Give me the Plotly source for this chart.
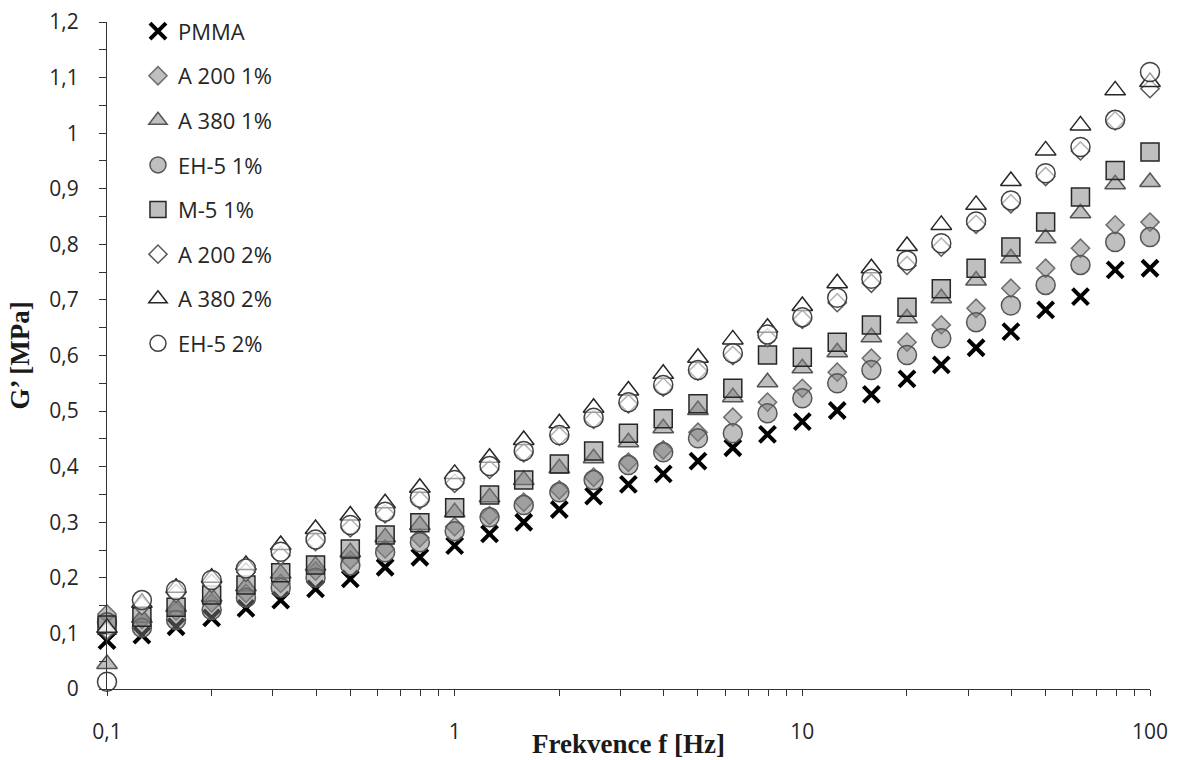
import plotly.graph_objects as go

freq = [0.1, 0.126, 0.158, 0.2, 0.251, 0.316, 0.398, 0.501, 0.631, 0.794,
        1.0, 1.26, 1.58, 2.0, 2.51, 3.16, 3.98, 5.01, 6.31, 7.94,
        10.0, 12.6, 15.8, 20.0, 25.1, 31.6, 39.8, 50.1, 63.1, 79.4, 100.0]

pmma = [0.087, 0.097, 0.112, 0.128, 0.145, 0.160, 0.180, 0.198, 0.219, 0.237,
        0.258, 0.279, 0.300, 0.323, 0.347, 0.368, 0.387, 0.410, 0.434, 0.458,
        0.481, 0.501, 0.530, 0.558, 0.583, 0.614, 0.643, 0.682, 0.706, 0.754, 0.757]

a200_1 = [0.135, 0.125, 0.140, 0.155, 0.172, 0.190, 0.212, 0.232, 0.252, 0.272,
          0.292, 0.312, 0.336, 0.358, 0.381, 0.408, 0.430, 0.462, 0.489, 0.516,
          0.541, 0.570, 0.595, 0.624, 0.655, 0.685, 0.721, 0.757, 0.793, 0.835, 0.840]

a380_1 = [0.045, 0.128, 0.148, 0.166, 0.185, 0.208, 0.222, 0.246, 0.273, 0.295,
          0.318, 0.345, 0.376, 0.397, 0.415, 0.444, 0.469, 0.502, 0.525, 0.552,
          0.577, 0.606, 0.633, 0.667, 0.703, 0.735, 0.775, 0.811, 0.856, 0.908, 0.912]

eh5_1 = [0.120, 0.110, 0.124, 0.142, 0.164, 0.182, 0.200, 0.222, 0.246, 0.264,
         0.284, 0.309, 0.331, 0.354, 0.376, 0.403, 0.426, 0.451, 0.460, 0.496,
         0.523, 0.550, 0.574, 0.601, 0.631, 0.660, 0.690, 0.727, 0.763, 0.804, 0.813]

m5_1 = [0.115, 0.129, 0.147, 0.169, 0.187, 0.209, 0.223, 0.252, 0.277, 0.299,
        0.326, 0.349, 0.376, 0.405, 0.428, 0.460, 0.486, 0.513, 0.541, 0.601,
        0.597, 0.624, 0.655, 0.687, 0.720, 0.757, 0.795, 0.840, 0.885, 0.933, 0.966]

a200_2 = [0.105, 0.150, 0.172, 0.190, 0.210, 0.240, 0.265, 0.290, 0.315, 0.340,
          0.370, 0.395, 0.425, 0.455, 0.485, 0.513, 0.543, 0.572, 0.600, 0.632,
          0.665, 0.695, 0.730, 0.762, 0.795, 0.836, 0.873, 0.922, 0.968, 1.022, 1.080]

a380_2 = [0.110, 0.155, 0.182, 0.200, 0.223, 0.259, 0.288, 0.312, 0.334, 0.362,
          0.387, 0.416, 0.448, 0.478, 0.506, 0.537, 0.567, 0.596, 0.629, 0.650,
          0.689, 0.730, 0.757, 0.797, 0.835, 0.871, 0.914, 0.969, 1.014, 1.077, 1.092]

eh5_2 = [0.013, 0.160, 0.178, 0.196, 0.217, 0.247, 0.269, 0.295, 0.319, 0.344,
         0.376, 0.401, 0.428, 0.457, 0.488, 0.516, 0.547, 0.574, 0.604, 0.638,
         0.669, 0.704, 0.738, 0.771, 0.802, 0.841, 0.879, 0.928, 0.975, 1.024, 1.110]

series_names = ["PMMA", "A 200 1%", "A 380 1%", "EH-5 1%", "M-5 1%",
                "A 200 2%", "A 380 2%", "EH-5 2%"]

x_tick_vals = [0.1, 0.2, 0.3, 0.4, 0.5, 0.6, 0.7, 0.8, 0.9,
               1, 2, 3, 4, 5, 6, 7, 8, 9,
               10, 20, 30, 40, 50, 60, 70, 80, 90, 100]
x_tick_text = ["0,1", "", "", "", "", "", "", "", "",
               "1", "", "", "", "", "", "", "", "",
               "10", "", "", "", "", "", "", "", "", "100"]

y_tick_vals = [0, 0.05, 0.1, 0.15, 0.2, 0.25, 0.3, 0.35, 0.4, 0.45, 0.5, 0.55,
               0.6, 0.65, 0.7, 0.75, 0.8, 0.85, 0.9, 0.95, 1.0, 1.05, 1.1, 1.15, 1.2]
y_tick_text = ["0", "", "0,1", "", "0,2", "", "0,3", "", "0,4", "", "0,5", "",
               "0,6", "", "0,7", "", "0,8", "", "0,9", "", "1", "", "1,1", "", "1,2"]

FILL = "rgba(128,128,128,0.5)"
OPEN = "rgba(255,255,255,0.55)"

styles = [
    dict(symbol="x-thin", size=16, color="black", line=dict(color="black", width=4)),
    dict(symbol="diamond", size=14, color=FILL, line=dict(color="#6e6e6e", width=1.5)),
    dict(symbol="triangle-up", size=18, color=FILL, line=dict(color="#555555", width=1.5)),
    dict(symbol="circle", size=19, color=FILL, line=dict(color="#555555", width=1.5)),
    dict(symbol="square", size=18, color=FILL, line=dict(color="#262626", width=1.5)),
    dict(symbol="diamond", size=14, color=OPEN, line=dict(color="#5a5a5a", width=1.5)),
    dict(symbol="triangle-up", size=18, color=OPEN, line=dict(color="#262626", width=1.5)),
    dict(symbol="circle", size=19, color=OPEN, line=dict(color="#404040", width=1.5)),
]

data = [pmma, a200_1, a380_1, eh5_1, m5_1, a200_2, a380_2, eh5_2]

fig = go.Figure()
for i, (name, vals, st) in enumerate(zip(series_names, data, styles)):
    fig.add_trace(go.Scatter(
        x=freq, y=vals, name=name, mode="markers",
        marker=st, cliponaxis=False, legendgroup=f"g{i}",
    ))

fig.update_layout(
    width=1178, height=760,
    margin=dict(l=107, r=28, t=22, b=71, autoexpand=False),
    paper_bgcolor="white", plot_bgcolor="white",
    separators=", ",
    font=dict(family="Open Sans", size=22, color="#262626"),
    showlegend=True,
    legend=dict(
        x=0.0297, y=1.0175, xanchor="left", yanchor="top",
        bgcolor="rgba(0,0,0,0)", font=dict(family="Open Sans", size=22, color="#262626"),
        tracegroupgap=13, itemsizing="trace", traceorder="grouped",
    ),
    xaxis=dict(
        type="log", range=[-1, 2], showgrid=False, zeroline=False, automargin=False,
        showline=True, linecolor="#333333", linewidth=1,
        ticks="outside", ticklen=6, tickcolor="#333333",
        tickvals=x_tick_vals, ticktext=x_tick_text,
        tickfont=dict(family="Open Sans", size=21, color="#262626"),
        ticklabelstandoff=18,
    ),
    yaxis=dict(
        range=[0, 1.2], showgrid=False, zeroline=False, automargin=False,
        showline=True, linecolor="#333333", linewidth=1,
        ticks="outside", ticklen=7, tickcolor="#333333",
        tickvals=y_tick_vals, ticktext=y_tick_text,
        tickfont=dict(family="Open Sans", size=21, color="#262626"),
        ticklabelstandoff=16,
    ),
    annotations=[
        dict(text="<b>Frekvence f [Hz]</b>", xref="paper", yref="paper", x=0.5, y=0,
             xanchor="center", yanchor="middle", yshift=-55, showarrow=False,
             font=dict(family="Liberation Serif", size=27, color="#1a1a1a")),
        dict(text="<b>G’ [MPa]</b>", xref="paper", yref="paper", x=0, y=0.5,
             xanchor="center", yanchor="middle", xshift=-88, textangle=-90, showarrow=False,
             font=dict(family="Liberation Serif", size=27, color="#1a1a1a")),
    ],
)

fig.write_html("out.html")
